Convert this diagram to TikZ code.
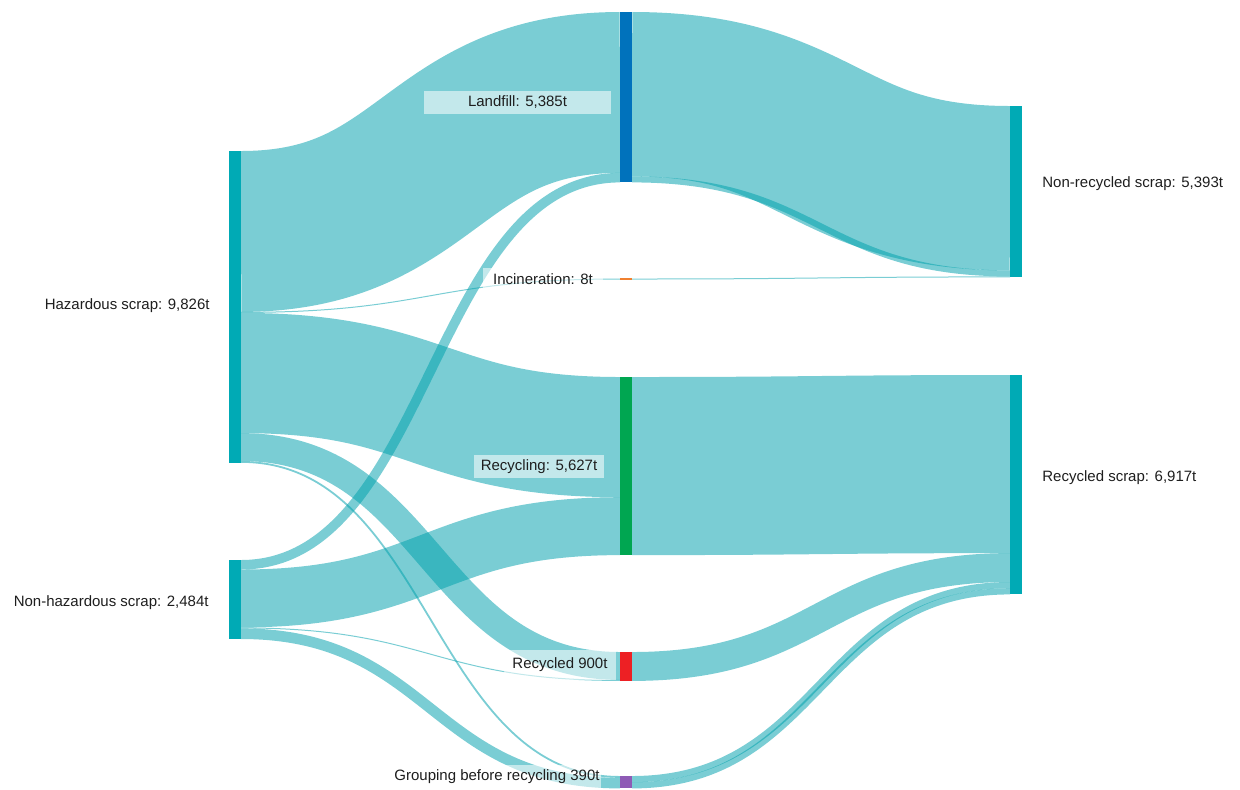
\documentclass[tikz,border=0pt]{standalone}
\usepackage{fontspec}
\setmainfont{Liberation Sans}
\usetikzlibrary{calc}

\definecolor{flowteal}{RGB}{0,160,172}
\definecolor{barteal}{RGB}{0,170,181}
\definecolor{landblue}{RGB}{0,114,188}
\definecolor{incorange}{RGB}{240,128,48}
\definecolor{recgreen}{RGB}{0,166,81}
\definecolor{redbar}{RGB}{237,32,36}
\definecolor{purplebar}{RGB}{142,91,181}
\definecolor{labeltext}{RGB}{30,30,30}

\tikzset{
  bar/.style={draw=none, inner sep=0pt, outer sep=0pt, anchor=north west, minimum width=6pt},
  flowband/.style={draw=flowteal, draw opacity=0.52},
  sidelbl/.style={inner sep=0pt, text=labeltext, font=\fontsize{7.5}{9}\selectfont},
  midlbl/.style={sidelbl, fill=white, fill opacity=0.55, text opacity=1},
}

% flow from node #1 (offset #2) to node #3 (offset #4), thickness #5
\newcommand{\flow}[5]{%
  \coordinate (fs) at ($(#1.north east)+(0,{#2+#5/2})$);
  \coordinate (ft) at ($(#3.north west)+(0,{#4+#5/2})$);
  \coordinate (fm) at ($(fs)!0.5!(ft)$);
  \draw[flowband, line width=#5*0.5pt] (fs) .. controls (fm |- fs) and (fm |- ft) .. (ft);
}

\begin{document}
\begin{tikzpicture}[x=0.5pt, y=-0.5pt]
  \useasboundingbox (0,0) rectangle (1240,789);

  % bars
  \node[bar, fill=barteal, minimum height=311.8*0.5pt] (haz) at (229,151) {};
  \node[bar, fill=barteal, minimum height=79*0.5pt] (nonhaz) at (229,560) {};
  \node[bar, fill=landblue, minimum height=170.4*0.5pt] (landfill) at (620,12) {};
  \node[bar, fill=incorange, minimum height=2*0.5pt] (incin) at (620,278) {};
  \node[bar, fill=recgreen, minimum height=178.1*0.5pt] (recyc) at (620,377) {};
  \node[bar, fill=redbar, minimum height=28.9*0.5pt] (rec900) at (620,652) {};
  \node[bar, fill=purplebar, minimum height=12.4*0.5pt] (group) at (620,776) {};
  \node[bar, fill=barteal, minimum height=171.4*0.5pt] (nonrec) at (1010,106) {};
  \node[bar, fill=barteal, minimum height=219.4*0.5pt] (recscrap) at (1010,375) {};

  % first stage
  \flow{haz}{0}{landfill}{0}{160.9}
  \flow{haz}{160.9}{incin}{0.5}{1}
  \flow{haz}{161.9}{recyc}{0}{120.2}
  \flow{haz}{282.1}{rec900}{0}{27.9}
  \flow{haz}{310}{group}{0}{1.8}
  \flow{nonhaz}{0}{landfill}{160.9}{9.5}
  \flow{nonhaz}{9.5}{recyc}{120.2}{57.9}
  \flow{nonhaz}{67.4}{rec900}{27.9}{1}
  \flow{nonhaz}{68.4}{group}{1.8}{10.6}

  % second stage
  \flow{landfill}{0}{nonrec}{0}{164.4}
  \flow{landfill}{164.4}{nonrec}{164.4}{6}
  \flow{incin}{0.5}{nonrec}{170.4}{1}
  \flow{recyc}{0}{recscrap}{0}{178.1}
  \flow{rec900}{0}{recscrap}{178.1}{28.9}
  \flow{group}{0}{recscrap}{207}{6.2}
  \flow{group}{6.2}{recscrap}{213.2}{6.2}

  % bars again on top of the flows
  \fill[barteal] (haz.north west) rectangle (haz.south east);
  \fill[barteal] (nonhaz.north west) rectangle (nonhaz.south east);
  \fill[landblue] (landfill.north west) rectangle (landfill.south east);
  \fill[incorange] (incin.north west) rectangle (incin.south east);
  \fill[recgreen] (recyc.north west) rectangle (recyc.south east);
  \fill[redbar] (rec900.north west) rectangle (rec900.south east);
  \fill[purplebar] (group.north west) rectangle (group.south east);
  \fill[barteal] (nonrec.north west) rectangle (nonrec.south east);
  \fill[barteal] (recscrap.north west) rectangle (recscrap.south east);

  % labels
  \node[sidelbl, anchor=east] (hazlbl) at (210,306) {Hazardous scrap: 9,826t};
  \node[sidelbl, anchor=east] (nonhazlbl) at (209,603) {Non-hazardous scrap: 2,484t};
  \node[sidelbl, anchor=west] (nonreclbl) at (1042,184) {Non-recycled scrap: 5,393t};
  \node[sidelbl, anchor=west] (recscraplbl) at (1042,478) {Recycled scrap: 6,917t};
  \node[midlbl, minimum width=93.5pt, minimum height=11.5pt] (landlbl) at (517.5,102.5) {Landfill: 5,385t};
  \node[midlbl, minimum width=60pt, minimum height=11pt] (incinlbl) at (543,279) {Incineration: 8t};
  \node[midlbl, minimum width=65pt, minimum height=11.5pt] (recyclbl) at (539,466.5) {Recycling: 5,627t};
  \node[midlbl, minimum width=56pt, minimum height=15pt] (rec900lbl) at (560,665) {Recycled 900t};
  \node[midlbl, minimum width=104pt, minimum height=12pt] (grouplbl) at (497,777) {Grouping before recycling 390t};
\end{tikzpicture}
\end{document}
